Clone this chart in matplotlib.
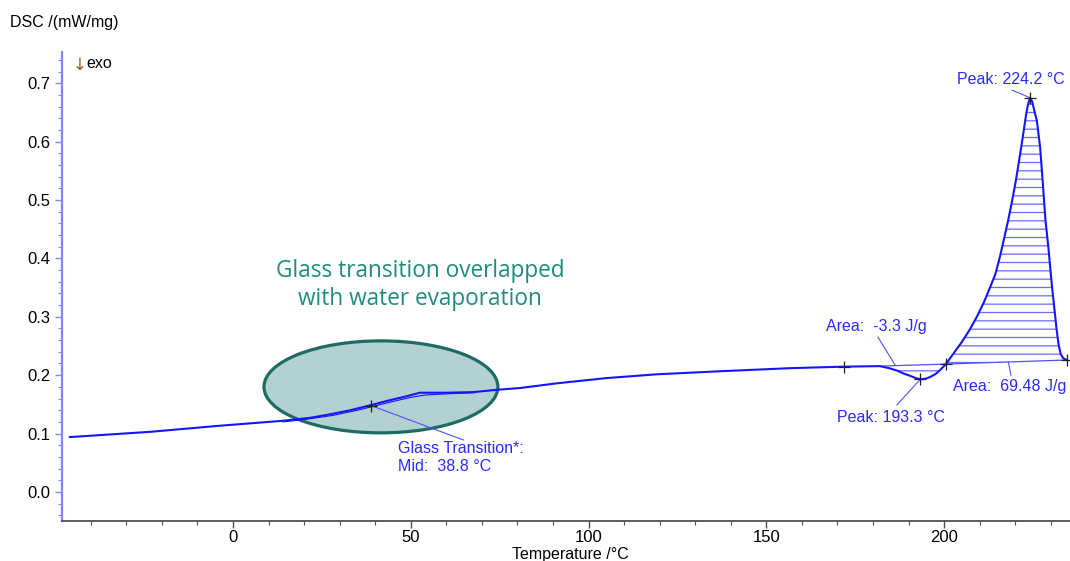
import matplotlib
matplotlib.use("Agg")
import matplotlib.pyplot as plt
from matplotlib.patches import Ellipse
from matplotlib.ticker import MultipleLocator, FixedLocator

# ---------------- data ----------------
temp = [-45.9, -23.3, -4.6, 14.2, 21.7, 27.3, 33.0, 39.0, 44.0, 48.9, 52.6, 60.1,
        67.6, 74.2, 80.7, 91.0, 105.0, 119.2, 138.0, 156.7, 171.7, 181.9, 184.5,
        186.7, 188.5, 190.4, 192.0, 193.4, 194.8, 196.1, 197.6, 198.9, 200.5,
        202.5, 205.0, 207.2, 209.2, 211.2, 212.9, 214.4, 215.7, 216.9, 218.0,
        219.0, 220.2, 221.7, 223.1, 223.6, 224.2, 224.8, 225.4, 226.1, 227.0,
        227.8, 228.5, 229.3, 230.2, 230.9, 231.6, 232.2, 232.8, 233.5, 234.5]
dsc = [0.094, 0.103, 0.113, 0.122, 0.127, 0.133, 0.140, 0.149, 0.157, 0.164, 0.170, 0.170,
       0.171, 0.175, 0.178, 0.186, 0.195, 0.2015, 0.207, 0.212, 0.2146, 0.2155, 0.212,
       0.208, 0.203, 0.199, 0.195, 0.193, 0.194, 0.197, 0.202, 0.209, 0.219,
       0.236, 0.257, 0.278, 0.300, 0.325, 0.350, 0.373, 0.403, 0.435, 0.465,
       0.495, 0.534, 0.591, 0.648, 0.664, 0.675, 0.668, 0.652, 0.635, 0.590,
       0.525, 0.465, 0.420, 0.360, 0.320, 0.280, 0.252, 0.236, 0.229, 0.226]

# secondary (fitted) trace in the glass-transition zone
gt_temp = [14.0, 20.0, 28.0, 35.0, 39.0, 45.0, 50.0, 54.0, 60.0, 68.0]
gt_dsc = [0.120, 0.124, 0.131, 0.140, 0.146, 0.155, 0.162, 0.166, 0.168, 0.170]

# evaluation points
marker_temp = [38.8, 171.7, 193.3, 200.4, 224.2, 234.5]
marker_dsc = [0.148, 0.2146, 0.193, 0.219, 0.675, 0.226]

# integration baselines
dip_base_temp = [181.9, 200.4]
dip_base_dsc = [0.2155, 0.219]
peak_base_temp = [200.4, 234.5]
peak_base_dsc = [0.219, 0.226]

x_major = [0, 50, 100, 150, 200]
y_major = [0.0, 0.1, 0.2, 0.3, 0.4, 0.5, 0.6, 0.7]

# ---------------- style ----------------
BLUE = "#1414ff"
TXT_BLUE = "#2a2aff"
LEAD = "#5050ff"
HATCH = "#6a6aff"
TEAL = "#1e8c7e"
plt.rcParams["font.family"] = ["Liberation Sans", "DejaVu Sans"]
plt.rcParams["hatch.linewidth"] = 0.9

fig = plt.figure(figsize=(10.7, 5.61), dpi=100)
ax = fig.add_axes([62 / 1070, 40 / 561, 1008 / 1070, 469 / 561])
ax.set_xlim(-48.1, 235.4)
ax.set_ylim(-0.0497, 0.7534)

# ellipse highlight
ell = Ellipse((41.6, 0.180), 65.8, 0.1575, facecolor="#b3d1d1",
              edgecolor="#1d6b63", lw=2.3, zorder=1)
ax.add_patch(ell)

# hatched areas
i0 = temp.index(181.9)
i1 = temp.index(200.5)
dx = temp[i0:i1] + [dip_base_temp[1], dip_base_temp[0]]
dy = dsc[i0:i1] + [dip_base_dsc[1], dip_base_dsc[0]]
ax.fill(dx, dy, facecolor="none", edgecolor=HATCH, hatch="--", lw=0, zorder=2)

j0 = temp.index(200.5)
px = [peak_base_temp[0]] + temp[j0:] + [peak_base_temp[1]]
py = [peak_base_dsc[0]] + dsc[j0:] + [peak_base_dsc[1]]
ax.fill(px, py, facecolor="none", edgecolor=HATCH, hatch="--", lw=0, zorder=2)

# baselines
ax.plot(dip_base_temp, dip_base_dsc, color=LEAD, lw=0.9, zorder=3)
ax.plot(peak_base_temp, peak_base_dsc, color=LEAD, lw=0.9, zorder=3)

# curves
ax.plot(gt_temp, gt_dsc, color=BLUE, lw=0.8, zorder=3)
ax.plot(temp, dsc, color=BLUE, lw=1.5, zorder=4, solid_joinstyle="round")

# markers
ax.plot(marker_temp, marker_dsc, ls="none", marker="+", ms=8, mew=0.9,
        color="#202020", zorder=5)

# leader lines
leaders = [((219.1, 224.2), (0.688, 0.675)),
           ((181.4, 186.2), (0.265, 0.2175)),
           ((218.1, 218.8), (0.2214, 0.200)),
           ((186.7, 193.3), (0.149, 0.193)),
           ((38.8, 64.8), (0.148, 0.089))]
for lx, ly in leaders:
    ax.plot(lx, ly, color=LEAD, lw=0.8, zorder=3)

# annotations
fs = 11.5
ax.text(203.7, 0.7055, "Peak: 224.2 °C", color=TXT_BLUE, fontsize=fs, va="center", ha="left")
ax.text(166.8, 0.284, "Area:  -3.3 J/g", color=TXT_BLUE, fontsize=fs, va="center", ha="left")
ax.text(202.6, 0.180, "Area:  69.48 J/g", color=TXT_BLUE, fontsize=fs, va="center", ha="left")
ax.text(169.8, 0.127, "Peak: 193.3 °C", color=TXT_BLUE, fontsize=fs, va="center", ha="left")
ax.text(46.5, 0.0747, "Glass Transition*:", color=TXT_BLUE, fontsize=fs, va="center", ha="left")
ax.text(46.5, 0.043, "Mid:  38.8 °C", color=TXT_BLUE, fontsize=fs, va="center", ha="left")

fig.text(420 / 1070, 1 - 285 / 561, "Glass transition overlapped\nwith water evaporation",
         color=TEAL, fontsize=16.3, ha="center", va="center", linespacing=1.22,
         family=["Open Sans", "DejaVu Sans"])

# exo marker
fig.text(73 / 1070, 1 - 65 / 561, "↓", color="#a05a1e", fontsize=12, ha="left", va="center",
         family=["DejaVu Sans"])
fig.text(86 / 1070, 1 - 64 / 561, "exo", color="black", fontsize=fs, ha="left", va="center")

# axis labels
fig.text(10 / 1070, 1 - 22 / 561, "DSC /(mW/mg)", fontsize=fs, ha="left", va="center")
fig.text(570 / 1070, 1 - 555 / 561, "Temperature /°C", fontsize=fs, ha="center", va="center")

# axes styling
for s in ("top", "right"):
    ax.spines[s].set_visible(False)
ax.spines["left"].set_color("#8585ff")
ax.spines["left"].set_linewidth(1.6)
ax.spines["bottom"].set_color("#505050")
ax.spines["bottom"].set_linewidth(1.3)

ax.xaxis.set_major_locator(FixedLocator(x_major))
ax.xaxis.set_minor_locator(MultipleLocator(10))
ax.yaxis.set_major_locator(FixedLocator(y_major))
ax.yaxis.set_minor_locator(MultipleLocator(0.02))
ax.set_xticklabels([str(v) for v in x_major])
ax.set_yticklabels([f"{v:.1f}" for v in y_major])
ax.tick_params(axis="x", which="both", colors="#505050", labelcolor="black", labelsize=12,
               direction="out", pad=1.5)
ax.tick_params(axis="x", which="major", length=5, width=1)
ax.tick_params(axis="x", which="minor", length=3, width=0.8)
ax.tick_params(axis="y", which="both", colors="#8585ff", labelcolor="black", labelsize=12,
               direction="out")
ax.tick_params(axis="y", which="major", length=5, width=1)
ax.tick_params(axis="y", which="minor", length=3, width=0.8)

fig.savefig("out.png", dpi=100)
